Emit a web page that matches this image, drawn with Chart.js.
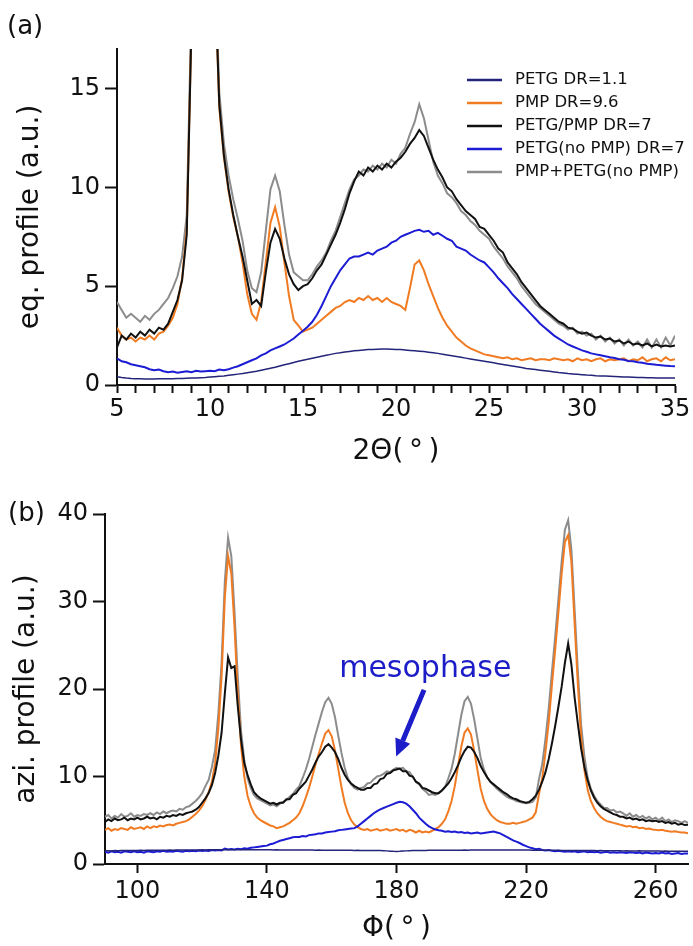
<!DOCTYPE html>
<html>
<head>
<meta charset="utf-8">
<script src="https://cdn.jsdelivr.net/npm/chart.js@4.4.1/dist/chart.umd.min.js"></script>
<style>
  html, body { margin: 0; padding: 0; background: #fff; }
  #wrap { position: relative; width: 693px; height: 946px; }
  #topChart { position: absolute; left: 0; top: 0; }
  #botChart { position: absolute; left: 0; top: 480px; }
</style>
</head>
<body>
<div id="wrap">
  <canvas id="topChart" width="693" height="480"></canvas>
  <canvas id="botChart" width="693" height="466"></canvas>
</div>
<script>
// ---- panel (a): equatorial profile vs 2theta ----
const topX = [5,5.25,5.5,5.75,6,6.25,6.5,6.75,7,7.25,7.5,7.75,8,8.25,8.5,8.75,9,9.25,9.5,9.75,
  10,10.25,10.5,10.75,11,11.25,11.5,11.75,12,12.25,12.5,12.75,13,13.25,13.5,13.75,14,14.25,14.5,14.75,
  15,15.25,15.5,15.75,16,16.25,16.5,16.75,17,17.25,17.5,17.75,18,18.25,18.5,18.75,19,19.25,19.5,19.75,
  20,20.25,20.5,20.75,21,21.25,21.5,21.75,22,22.25,22.5,22.75,23,23.25,23.5,23.75,24,24.25,24.5,24.75,
  25,25.25,25.5,25.75,26,26.25,26.5,26.75,27,27.25,27.5,27.75,28,28.25,28.5,28.75,29,29.25,29.5,29.75,
  30,30.25,30.5,30.75,31,31.25,31.5,31.75,32,32.25,32.5,32.75,33,33.25,33.5,33.75,34,34.25,34.5,34.75,35];

const petgTop = [0.42,0.38,0.35,0.33, 0.32,0.31,0.3,0.3, 0.3,0.31,0.31,0.32, 0.32,0.33,0.33,0.34,
  0.35,0.36,0.37,0.38, 0.4,0.42,0.44,0.46, 0.49,0.52,0.55,0.58, 0.62,0.66,0.7,0.75,
  0.8,0.85,0.9,0.96, 1.02,1.08,1.14,1.2, 1.25,1.3,1.35,1.4, 1.45,1.5,1.55,1.6,
  1.63,1.67,1.7,1.73, 1.75,1.77,1.79,1.8, 1.81,1.82,1.82,1.81, 1.8,1.79,1.77,1.75,
  1.73,1.71,1.69,1.66, 1.63,1.6,1.56,1.52, 1.48,1.44,1.4,1.36, 1.32,1.28,1.24,1.2,
  1.16,1.12,1.08,1.04, 1.0,0.96,0.92,0.88, 0.84,0.81,0.78,0.75, 0.72,0.69,0.66,0.63,
  0.61,0.58,0.56,0.54, 0.52,0.5,0.49,0.47, 0.46,0.45,0.44,0.43, 0.42,0.41,0.4,0.39,
  0.38,0.38,0.37,0.37, 0.36,0.36,0.35,0.35, 0.35];

const pmpTop = [2.9,2.5,2.3,2.4, 2.2,2.4,2.3,2.5, 2.3,2.6,2.7,3.0, 3.4,4.1,5.4,7.9,
  18,32,46,48, 34,21,14.0,11.5, 9.8,8.5,7.5,6.2, 4.6,3.6,3.3,4.2,
  6.2,8.2,9.0,8.0, 6.2,4.5,3.3,3.0, 2.7,2.8,2.9,3.1, 3.3,3.5,3.7,3.9,
  4.0,4.2,4.3,4.2, 4.4,4.3,4.5,4.3, 4.4,4.2,4.4,4.2, 4.1,4.0,3.8,4.9,
  6.1,6.3,5.8,5.1, 4.5,3.9,3.4,3.0, 2.7,2.4,2.2,2.0, 1.85,1.75,1.65,1.55,
  1.5,1.45,1.4,1.35, 1.4,1.3,1.35,1.25, 1.3,1.35,1.25,1.3, 1.3,1.25,1.35,1.3,
  1.25,1.3,1.2,1.35, 1.25,1.3,1.2,1.3, 1.35,1.2,1.3,1.25, 1.3,1.35,1.2,1.3,
  1.25,1.4,1.2,1.3, 1.35,1.2,1.4,1.25, 1.3];

const blendTop = [1.9,2.5,2.3,2.6, 2.4,2.7,2.5,2.8, 2.6,2.9,2.8,3.1, 3.7,4.3,5.3,7.6,
  18,32,46,48, 34,21,14.2,11.6, 9.9,8.6,7.5,6.5, 5.3,4.1,4.3,4.0,
  5.7,7.2,7.9,7.4, 6.4,5.6,5.1,4.8, 5.0,5.1,5.4,5.8, 6.1,6.6,7.1,7.6,
  8.2,8.9,9.7,10.3, 10.8,10.6,11.0,10.8, 11.1,10.9,11.2,11.0, 11.3,11.5,11.8,12.2,
  12.5,12.9,12.6,12.0, 11.4,10.9,10.5,10.0, 9.8,9.4,9.1,8.8, 8.6,8.4,8.0,7.9,
  7.6,7.3,6.9,6.7, 6.2,5.9,5.6,5.2, 4.9,4.6,4.3,4.0, 3.8,3.6,3.4,3.2,
  3.1,2.9,2.85,2.7, 2.6,2.65,2.5,2.4, 2.45,2.3,2.35,2.2, 2.25,2.1,2.2,2.05,
  2.1,2.0,2.1,1.95, 2.05,1.95,2.0,1.95, 2.0];

const noPmpTop = [1.35,1.2,1.15,1.05, 1.0,0.95,0.9,0.8, 0.75,0.78,0.7,0.65, 0.68,0.62,0.66,0.7,
  0.65,0.72,0.68,0.7, 0.72,0.7,0.78,0.75, 0.8,0.88,0.95,1.05, 1.15,1.25,1.35,1.5,
  1.6,1.75,1.85,1.95, 2.05,2.2,2.35,2.55, 2.75,2.95,3.2,3.55, 4.0,4.5,5.0,5.4,
  5.8,6.1,6.4,6.5, 6.5,6.6,6.7,6.6, 6.8,6.9,7.0,7.2, 7.3,7.5,7.6,7.7,
  7.8,7.85,7.75,7.8, 7.6,7.7,7.55,7.4, 7.3,7.0,6.9,6.8, 6.6,6.45,6.3,6.2,
  5.95,5.7,5.4,5.15, 4.9,4.6,4.35,4.1, 3.85,3.6,3.35,3.1, 2.9,2.7,2.5,2.35,
  2.2,2.05,1.95,1.85, 1.75,1.68,1.6,1.55, 1.5,1.45,1.4,1.37, 1.3,1.28,1.22,1.2,
  1.15,1.12,1.08,1.05, 1.02,1.0,0.98,0.96, 0.95];

const sumTop = [4.2,3.8,3.4,3.6, 3.4,3.2,3.5,3.3, 3.6,3.8,4.1,4.4, 4.9,5.5,6.5,8.6,
  19,33,47,49, 35,22,14.8,12.2, 10.6,9.4,8.4,7.3, 5.8,4.9,4.7,5.7,
  7.8,9.9,10.6,9.8, 8.1,6.6,5.7,5.5, 5.3,5.3,5.6,6.0, 6.3,6.7,7.3,7.8,
  8.5,9.2,9.9,10.4, 10.6,10.9,10.8,11.1, 10.9,11.2,11.0,11.4, 11.2,11.7,12.0,12.7,
  13.3,14.2,13.5,12.4, 11.3,10.6,10.2,9.7, 9.5,9.2,8.8,8.6, 8.3,8.1,7.8,7.6,
  7.4,7.0,6.7,6.4, 6.0,5.7,5.4,5.0, 4.7,4.4,4.1,3.9, 3.7,3.5,3.3,3.1,
  3.0,2.8,2.9,2.6, 2.7,2.5,2.6,2.3, 2.5,2.2,2.4,2.1, 2.3,2.0,2.3,2.0,
  2.2,1.9,2.3,1.9, 2.3,1.9,2.4,2.0, 2.5];

const topXTicks = [5, 10, 15, 20, 25, 30, 35];
const topYTicks = [0, 5, 10, 15];

// ---- panel (b): azimuthal profile vs phi ----
const botX = [90,91,92,93,94,95,96,97,98,99,100,101,102,103,104,105,106,107,108,109,
  110,111,112,113,114,115,116,117,118,119,120,121,122,123,124,125,126,127,128,129,
  130,131,132,133,134,135,136,137,138,139,140,141,142,143,144,145,146,147,148,149,
  150,151,152,153,154,155,156,157,158,159,160,161,162,163,164,165,166,167,168,169,
  170,171,172,173,174,175,176,177,178,179,180,181,182,183,184,185,186,187,188,189,
  190,191,192,193,194,195,196,197,198,199,200,201,202,203,204,205,206,207,208,209,
  210,211,212,213,214,215,216,217,218,219,220,221,222,223,224,225,226,227,228,229,
  230,231,232,233,234,235,236,237,238,239,240,241,242,243,244,245,246,247,248,249,
  250,251,252,253,254,255,256,257,258,259,260,261,262,263,264,265,266,267,268,269,270];

const petgBot = [1.5,1.52,1.5,1.53,1.52,1.54,1.53,1.55,1.54,1.55,
  1.55,1.56,1.55,1.57,1.56,1.57,1.58,1.57,1.58,1.58,
  1.59,1.58,1.6,1.59,1.6,1.6,1.61,1.6,1.61,1.6,
  1.62,1.61,1.62,1.62,1.63,1.62,1.63,1.63,1.64,1.63,
  1.63,1.64,1.63,1.64,1.63,1.64,1.63,1.63,1.62,1.63,
  1.62,1.62,1.61,1.62,1.61,1.61,1.6,1.61,1.6,1.6,
  1.6,1.59,1.6,1.59,1.59,1.58,1.59,1.58,1.58,1.57,
  1.58,1.57,1.57,1.56,1.57,1.56,1.56,1.55,1.56,1.55,
  1.55,1.54,1.55,1.54,1.53,1.54,1.52,1.5,1.47,1.45,
  1.44,1.45,1.48,1.5,1.52,1.53,1.54,1.54,1.55,1.55,
  1.56,1.56,1.57,1.56,1.57,1.57,1.58,1.57,1.58,1.58,
  1.58,1.59,1.58,1.59,1.59,1.6,1.59,1.6,1.6,1.6,
  1.6,1.61,1.6,1.61,1.61,1.6,1.61,1.6,1.6,1.59,
  1.59,1.59,1.58,1.58,1.57,1.58,1.57,1.57,1.56,1.56,
  1.56,1.55,1.55,1.55,1.54,1.55,1.54,1.54,1.53,1.54,
  1.53,1.53,1.52,1.53,1.52,1.52,1.51,1.52,1.51,1.51,
  1.5,1.51,1.5,1.5,1.49,1.5,1.49,1.49,1.48,1.49,
  1.48,1.48,1.47,1.48,1.47,1.47,1.46,1.47,1.46,1.46, 1.45];

const pmpBot = [3.9,4.1,3.8,4.0,3.9,4.1,4.0,3.9,4.2,4.0,
  4.1,4.2,4.0,4.3,4.1,4.3,4.2,4.4,4.3,4.45,
  4.5,4.4,4.6,4.7,4.8,4.9,5.1,5.4,5.7,6.1,
  6.6,7.3,8.2,9.4,11.5,15.5,21.5,30.5,35.2,33.2,
  27.0,19.5,13.5,10.0,7.8,6.6,5.8,5.3,5.0,4.8,
  4.6,4.4,4.3,4.1,4.2,4.3,4.5,4.7,5.0,5.3,
  5.8,6.6,7.6,8.7,10.0,11.4,12.6,13.8,14.9,15.3,
  14.6,13.0,10.9,8.8,7.0,5.8,5.0,4.5,4.2,4.0,
  3.9,4.0,3.8,3.9,4.0,3.8,3.9,4.0,3.8,3.9,
  4.0,3.8,3.9,3.7,3.9,3.8,3.6,3.8,3.6,3.7,
  3.6,3.8,4.0,4.2,4.6,5.1,6.0,7.2,8.9,11.2,
  13.4,15.0,15.5,14.8,12.9,10.7,8.6,7.2,6.3,5.7,
  5.3,5.0,4.8,4.7,4.6,4.6,4.7,4.6,4.7,4.8,
  4.9,5.1,5.3,5.9,8.0,9.8,12.8,16.2,20.5,24.5,
  28.8,33.2,36.8,37.6,34.5,27.5,20.5,14.5,10.8,8.5,
  7.2,6.4,5.8,5.4,5.1,4.9,4.8,4.7,4.6,4.5,
  4.4,4.3,4.35,4.2,4.25,4.1,4.15,4.0,4.05,3.95,
  3.9,3.85,3.9,3.8,3.75,3.7,3.75,3.65,3.6,3.6, 3.5];

const blendBot = [4.8,5.1,4.9,5.2,5.0,5.1,5.3,5.0,5.2,5.1,
  5.3,5.1,5.2,5.4,5.2,5.3,5.1,5.4,5.3,5.5,
  5.4,5.6,5.5,5.7,5.6,5.8,5.9,6.0,6.2,6.5,
  7.0,7.5,8.1,9.0,10.4,12.4,15.0,19.5,23.6,22.4,
  22.6,18.0,14.2,11.5,10.2,9.1,8.2,7.8,7.5,7.3,
  7.1,6.9,7.0,6.8,7.0,7.0,7.4,7.4,7.9,8.1,
  8.6,9.0,9.4,10.1,10.8,11.6,12.3,12.8,13.4,13.7,
  13.3,12.8,12.0,11.0,10.2,9.6,9.2,8.9,8.7,8.5,
  8.5,8.7,8.7,9.1,9.2,9.7,9.8,10.3,10.4,10.7,
  10.8,10.9,10.6,10.6,10.1,10.0,9.4,9.2,8.7,8.6,
  8.4,8.2,8.1,8.1,8.4,8.8,9.2,9.8,10.5,11.3,
  12.2,12.9,13.4,13.3,12.8,12.1,11.2,10.5,9.9,9.4,
  9.1,8.8,8.5,8.2,8.0,7.7,7.5,7.4,7.2,7.1,
  7.0,7.1,7.4,7.8,8.5,9.4,10.5,12.0,13.8,15.8,
  18.0,20.3,23.0,25.2,22.8,19.0,16.0,13.2,11.1,9.6,
  8.4,7.6,7.0,6.6,6.3,6.1,5.9,5.7,5.6,5.4,
  5.4,5.2,5.3,5.1,5.2,5.0,5.1,4.9,5.0,4.9,
  4.95,4.8,4.9,4.7,4.8,4.6,4.7,4.5,4.6,4.45, 4.5];

const noPmpBot = [1.4,1.3,1.45,1.35,1.4,1.3,1.45,1.4,1.35,1.45,
  1.35,1.4,1.3,1.45,1.4,1.35,1.45,1.4,1.5,1.4,
  1.45,1.4,1.5,1.45,1.4,1.5,1.45,1.5,1.45,1.55,
  1.5,1.55,1.5,1.6,1.55,1.6,1.55,1.75,1.65,1.7,
  1.65,1.75,1.7,1.8,1.75,1.85,1.9,1.95,2.0,2.05,
  2.1,2.25,2.35,2.5,2.65,2.75,2.85,2.95,3.05,3.1,
  3.1,3.2,3.15,3.3,3.35,3.4,3.5,3.5,3.6,3.65,
  3.7,3.75,3.85,3.9,3.95,4.0,4.05,4.1,4.3,4.6,
  4.9,5.2,5.5,5.8,6.05,6.25,6.4,6.55,6.7,6.85,
  7.0,7.1,7.05,6.9,6.6,6.2,5.8,5.3,4.95,4.6,
  4.3,4.1,3.95,3.85,3.8,3.7,3.75,3.65,3.7,3.6,
  3.65,3.55,3.6,3.5,3.55,3.6,3.5,3.55,3.6,3.65,
  3.7,3.6,3.5,3.3,3.1,2.9,2.7,2.55,2.4,2.2,
  2.05,1.9,1.8,1.7,1.75,1.6,1.55,1.6,1.5,1.45,
  1.5,1.45,1.4,1.45,1.4,1.45,1.35,1.4,1.45,1.35,
  1.4,1.35,1.4,1.3,1.35,1.4,1.3,1.35,1.3,1.35,
  1.3,1.25,1.35,1.3,1.25,1.3,1.2,1.3,1.25,1.2,
  1.25,1.2,1.3,1.2,1.25,1.15,1.2,1.25,1.15,1.2, 1.2];

const sumBot = [5.4,5.6,5.2,5.5,5.3,5.7,5.4,5.5,5.8,5.4,
  5.6,5.5,5.7,5.6,5.8,5.6,5.9,5.7,6.0,5.8,
  6.0,6.1,6.0,6.3,6.2,6.5,6.6,6.9,7.2,7.6,
  8.1,8.9,9.6,11.1,13.0,17.2,23.0,32.3,37.3,35.2,
  28.7,21.3,15.2,11.9,9.8,8.7,7.9,7.5,7.3,7.1,
  6.9,6.7,6.8,6.6,6.9,7.1,7.3,7.7,8.0,8.5,
  8.9,9.8,10.8,12.0,13.4,14.8,16.1,17.4,18.5,19.0,
  18.3,16.8,14.7,12.7,11.0,9.8,9.1,8.7,8.5,8.7,
  8.8,9.2,9.3,9.7,10.0,10.1,10.3,10.6,10.5,10.8,
  11.0,10.9,11.0,10.6,10.5,10.0,9.4,9.1,8.6,8.3,
  7.9,8.0,7.9,8.1,8.4,8.8,9.8,10.9,12.6,14.8,
  17.0,18.6,19.1,18.3,16.5,14.3,12.1,10.8,9.9,9.4,
  9.0,8.6,8.3,8.0,7.7,7.5,7.4,7.2,7.1,7.0,
  6.95,7.0,7.1,7.6,9.7,11.4,14.3,17.8,22.0,26.0,
  30.3,34.6,38.2,39.3,35.9,29.0,21.9,15.9,12.3,9.9,
  8.6,7.8,7.2,6.8,6.4,6.4,6.1,6.2,5.9,6.0,
  5.8,5.5,5.8,5.4,5.6,5.3,5.5,5.2,5.4,5.1,
  5.3,5.0,5.3,4.9,5.1,4.8,5.0,4.9,4.7,4.9, 4.7];

const botXTicks = [100, 140, 180, 220, 260];
const botYTicks = [0, 10, 20, 30, 40];

// legend order
const seriesNames = ['PETG DR=1.1', 'PMP DR=9.6', 'PETG/PMP DR=7', 'PETG(no PMP) DR=7', 'PMP+PETG(no PMP)'];
const seriesColors = ['#24247a', '#f07b22', '#111111', '#1c1cd4', '#8c8c8c'];
const lineWidths = [1.5, 2, 2, 2, 2];
const drawOrder = [0, 3, 2, 1, 4]; // lower = drawn on top

const annot = { text: 'mesophase', x: 162.3, y: 21.4, ax0: 188.5, ay0: 19.9, ax1: 179.9, ay1: 12.3 };

Chart.defaults.font.family = "'DejaVu Sans', sans-serif";
Chart.defaults.color = '#111';

function buildSets(xs, list) {
  return list.map((vals, k) => ({
    label: seriesNames[k],
    data: xs.map((x, i) => ({ x: x, y: vals[i] })),
    borderColor: seriesColors[k],
    borderWidth: lineWidths[k],
    pointRadius: 0,
    tension: 0,
    fill: false,
    order: drawOrder[k]
  }));
}

function axis(o) {
  return {
    type: 'linear', min: o.min, max: o.max,
    afterBuildTicks: s => { s.ticks = o.ticks.map(v => ({ value: v })); },
    afterFit: s => { if (o.size.w) s.width = o.size.w; if (o.size.h) s.height = o.size.h; },
    ticks: {
      autoSkip: false, maxRotation: 0, padding: o.pad,
      font: { size: 24 }, color: '#111',
      callback: o.label || (v => String(v))
    },
    grid: { drawOnChartArea: false, drawTicks: true, tickLength: o.tick, tickWidth: 2, tickColor: '#111' },
    border: { color: '#111', width: 2 },
    title: { display: true, text: o.title, font: { size: 28 }, color: '#111', padding: o.tpad }
  };
}

function panelLabel(txt, x, y) {
  return {
    id: 'panelLabel',
    afterDraw(chart) {
      const c = chart.ctx;
      c.save();
      c.font = "26px 'DejaVu Sans'";
      c.fillStyle = '#111';
      c.textBaseline = 'middle';
      c.fillText(txt, x, y);
      c.restore();
    }
  };
}

const legendBox = {
  id: 'legendBox',
  afterDraw(chart) {
    const c = chart.ctx;
    c.save();
    c.font = "16.5px 'DejaVu Sans'";
    c.textBaseline = 'middle';
    chart.data.datasets.forEach((ds, i) => {
      const y = 80 + i * 23;
      c.strokeStyle = ds.borderColor;
      c.lineWidth = 2.5;
      c.beginPath(); c.moveTo(467, y); c.lineTo(502, y); c.stroke();
      c.fillStyle = '#111';
      c.fillText(ds.label, 515, y);
    });
    c.restore();
  }
};

const mesoNote = {
  id: 'mesoNote',
  afterDatasetsDraw(chart) {
    const c = chart.ctx, xs = chart.scales.x, ys = chart.scales.y;
    c.save();
    c.fillStyle = '#1c1cc8';
    c.strokeStyle = '#1c1cc8';
    c.font = "30px 'DejaVu Sans'";
    c.textBaseline = 'alphabetic';
    c.fillText(annot.text, xs.getPixelForValue(annot.x), ys.getPixelForValue(annot.y));
    const x0 = xs.getPixelForValue(annot.ax0), y0 = ys.getPixelForValue(annot.ay0);
    const x1 = xs.getPixelForValue(annot.ax1), y1 = ys.getPixelForValue(annot.ay1);
    const ang = Math.atan2(y1 - y0, x1 - x0), head = 17;
    const bx = x1 - head * Math.cos(ang), by = y1 - head * Math.sin(ang);
    c.lineWidth = 5;
    c.beginPath(); c.moveTo(x0, y0); c.lineTo(bx, by); c.stroke();
    c.beginPath();
    c.moveTo(x1, y1);
    c.lineTo(bx + 8 * Math.sin(ang), by - 8 * Math.cos(ang));
    c.lineTo(bx - 8 * Math.sin(ang), by + 8 * Math.cos(ang));
    c.closePath(); c.fill();
    c.restore();
  }
};

const topMinor = [];
for (let v = 5; v <= 35; v++) topMinor.push(v);

new Chart(document.getElementById('topChart'), {
  type: 'line',
  data: { datasets: buildSets(topX, [petgTop, pmpTop, blendTop, noPmpTop, sumTop]) },
  options: {
    responsive: false, animation: false, devicePixelRatio: 1,
    layout: { padding: { left: 0, right: 18, top: 49, bottom: 0 } },
    plugins: { legend: { display: false }, tooltip: { enabled: false } },
    scales: {
      x: axis({ min: 5, max: 35, ticks: topMinor, size: { h: 95 }, pad: 2, tick: 8,
        label: v => topXTicks.includes(v) ? String(v) : '',
        title: '2Θ(\u2009°\u2009)', tpad: { top: 0, bottom: 11 } }),
      y: axis({ min: 0, max: 17, ticks: topYTicks, size: { w: 117 }, pad: 5, tick: 12,
        title: 'eq. profile (a.u.)', tpad: { top: 14, bottom: 0 } })
    }
  },
  plugins: [panelLabel('(a)', 7, 27), legendBox]
});

new Chart(document.getElementById('botChart'), {
  type: 'line',
  data: { datasets: buildSets(botX, [petgBot, pmpBot, blendBot, noPmpBot, sumBot]) },
  options: {
    responsive: false, animation: false, devicePixelRatio: 1,
    layout: { padding: { left: 0, right: 5, top: 34, bottom: 0 } },
    plugins: { legend: { display: false }, tooltip: { enabled: false } },
    scales: {
      x: axis({ min: 90, max: 270, ticks: botXTicks, size: { h: 82 }, pad: 4, tick: 9,
        title: 'Φ(\u2009°\u2009)', tpad: { top: 0, bottom: 0 } }),
      y: axis({ min: 0, max: 40, ticks: botYTicks, size: { w: 105 }, pad: 5, tick: 12,
        title: 'azi. profile (a.u.)', tpad: { top: 10, bottom: 0 } })
    }
  },
  plugins: [panelLabel('(b)', 8, 34), mesoNote]
});
</script>
</body>
</html>
